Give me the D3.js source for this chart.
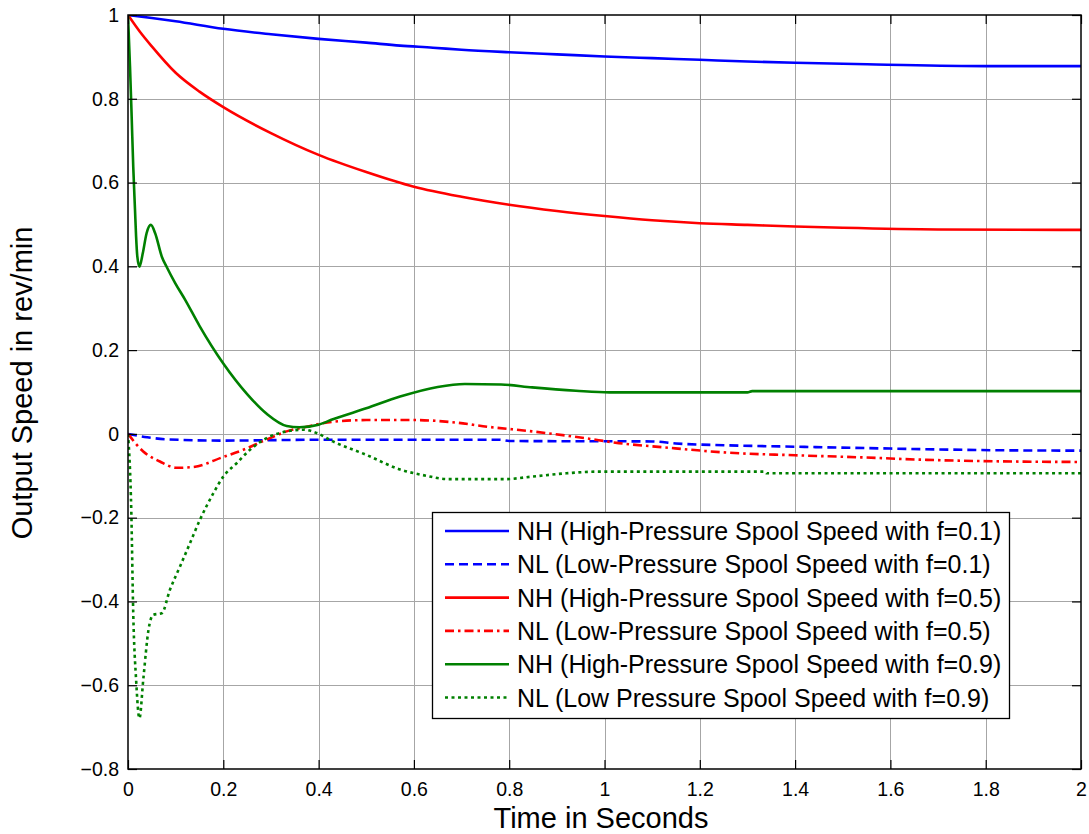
<!DOCTYPE html>
<html>
<head>
<meta charset="UTF-8">
<title>Output Speed</title>
<script src="https://cdnjs.cloudflare.com/ajax/libs/d3/7.8.5/d3.min.js"></script>
<style>
  body { margin: 0; background: #fff; }
  text { font-family: "Liberation Sans", Arial, sans-serif; fill: #000; }
</style>
</head>
<body>
<svg id="chart" width="1089" height="834"></svg>
<script>
// data: [time (s), speed]
var nhF01 = [[0,1],[0.05,0.993],[0.1,0.985],[0.2,0.967],[0.3,0.954],[0.4,0.943],[0.5,0.934],[0.571,0.927],
  [0.64,0.922],[0.7,0.917],[0.8,0.911],[0.9,0.906],[1.0,0.901],[1.1,0.897],[1.2,0.893],[1.3,0.889],
  [1.4,0.886],[1.57,0.882],[1.8,0.878],[2.0,0.878]];
var nlF01 = [[0,0],[0.04,-0.008],[0.08,-0.013],[0.2,-0.016],[0.4,-0.014],[0.78,-0.014],[0.8,-0.017],
  [1.1,-0.018],[1.15,-0.023],[1.25,-0.027],[1.42,-0.031],[1.6,-0.035],[1.82,-0.039],[2.0,-0.040]];
var nhF05 = [[0,1],[0.025,0.96],[0.05,0.925],[0.1,0.862],[0.15,0.817],[0.2,0.780],[0.3,0.718],[0.4,0.666],
  [0.5,0.625],[0.6,0.590],[0.7,0.566],[0.8,0.547],[0.9,0.532],[1.0,0.520],[1.1,0.510],[1.2,0.503],
  [1.3,0.499],[1.4,0.495],[1.5,0.492],[1.7,0.488],[2.0,0.487]];
var nlF05 = [[0,0],[0.032,-0.042],[0.067,-0.066],[0.102,-0.081],[0.137,-0.079],[0.2,-0.055],[0.242,-0.038],
  [0.29,-0.014],[0.333,0.006],[0.375,0.017],[0.43,0.029],[0.5,0.033],[0.6,0.033],[0.68,0.028],[0.755,0.017],
  [0.848,0.006],[0.958,-0.010],[1.03,-0.022],[1.124,-0.032],[1.262,-0.045],[1.40,-0.051],[1.538,-0.056],
  [1.677,-0.062],[1.86,-0.066],[2.0,-0.067]];
var nhF09 = [[0,1],[0.0042,0.877],[0.0077,0.757],[0.011,0.638],[0.0147,0.535],[0.017,0.471],[0.0196,0.423],
  [0.024,0.399],[0.031,0.431],[0.039,0.479],[0.048,0.499],[0.057,0.479],[0.071,0.423],[0.081,0.399],
  [0.099,0.36],[0.12,0.32],[0.15,0.258],[0.2,0.168],[0.25,0.095],[0.291,0.048],[0.333,0.019],[0.36,0.016],
  [0.4,0.022],[0.43,0.035],[0.5,0.061],[0.571,0.089],[0.65,0.112],[0.707,0.119],[0.783,0.118],[0.848,0.111],
  [0.94,0.103],[1.01,0.099],[1.30,0.099],[1.31,0.102],[2.0,0.102]];
var nlF09 = [[0,0],[0.007,-0.189],[0.011,-0.428],[0.017,-0.587],[0.024,-0.679],[0.032,-0.587],[0.043,-0.468],
  [0.053,-0.432],[0.071,-0.428],[0.088,-0.372],[0.109,-0.317],[0.13,-0.261],[0.151,-0.205],[0.179,-0.142],
  [0.2,-0.102],[0.228,-0.07],[0.256,-0.038],[0.291,-0.010],[0.333,0.006],[0.368,0.010],[0.396,0.002],
  [0.43,-0.018],[0.5,-0.05],[0.571,-0.085],[0.626,-0.100],[0.67,-0.108],[0.79,-0.108],[0.848,-0.102],
  [0.92,-0.094],[0.987,-0.090],[1.337,-0.090],[1.34,-0.094],[2.0,-0.094]];

var xTicks = [0,0.2,0.4,0.6,0.8,1,1.2,1.4,1.6,1.8,2];
var yTicks = [1,0.8,0.6,0.4,0.2,0,-0.2,-0.4,-0.6,-0.8];
var legendLabels = [
  "NH (High-Pressure Spool Speed with f=0.1)",
  "NL (Low-Pressure Spool Speed with f=0.1)",
  "NH (High-Pressure Spool Speed with f=0.5)",
  "NL (Low-Pressure Spool Speed with f=0.5)",
  "NH (High-Pressure Spool Speed with f=0.9)",
  "NL (Low Pressure Spool Speed with f=0.9)"
];

var series = [
  {data: nhF01, color: "#0000ff", dash: null},
  {data: nlF01, color: "#0000ff", dash: "9,5"},
  {data: nhF05, color: "#ff0000", dash: null},
  {data: nlF05, color: "#ff0000", dash: "9,4,2.5,4"},
  {data: nhF09, color: "#008000", dash: null},
  {data: nlF09, color: "#008000", dash: "3,3.5"}
];

var W = 1089, H = 834;
var m = {left: 128, top: 15, right: 8, bottom: 65};
var svg = d3.select("#chart");
svg.append("rect").attr("width", W).attr("height", H).attr("fill", "#fff");

var x = d3.scaleLinear().domain([0, 2]).range([m.left, W - m.right]);
var y = d3.scaleLinear().domain([-0.8, 1]).range([H - m.bottom, m.top]);

svg.append("defs").append("clipPath").attr("id", "plot")
  .append("rect").attr("x", x(0)).attr("y", y(1)).attr("width", x(2) - x(0)).attr("height", y(-0.8) - y(1));

// grid
var grid = svg.append("g").attr("stroke", "#a6a6a6").attr("stroke-width", 1);
grid.selectAll(".gx").data(xTicks.slice(1, -1)).enter().append("line")
  .attr("x1", d => Math.round(x(d)) + 0.5).attr("x2", d => Math.round(x(d)) + 0.5)
  .attr("y1", y(1)).attr("y2", y(-0.8));
grid.selectAll(".gy").data(yTicks.slice(1, -1)).enter().append("line")
  .attr("y1", d => Math.round(y(d)) + 0.5).attr("y2", d => Math.round(y(d)) + 0.5)
  .attr("x1", x(0)).attr("x2", x(2));

// series
var line = d3.line().x(d => x(d[0])).y(d => y(d[1])).curve(d3.curveMonotoneX);
svg.append("g").attr("clip-path", "url(#plot)")
  .selectAll("path").data(series).enter().append("path")
  .attr("d", d => line(d.data))
  .attr("fill", "none")
  .attr("stroke", d => d.color)
  .attr("stroke-width", 2.6)
  .attr("stroke-dasharray", d => d.dash);

// axes box and inward ticks
var axes = svg.append("g");
var bottomAxis = d3.axisBottom(x).tickValues(xTicks).tickSizeInner(-9).tickSizeOuter(0).tickPadding(13)
  .tickFormat(d3.format("~g"));
var topAxis = d3.axisTop(x).tickValues(xTicks).tickSizeInner(-9).tickSizeOuter(0).tickFormat("");
var leftAxis = d3.axisLeft(y).tickValues(yTicks).tickSizeInner(-9).tickSizeOuter(0).tickPadding(9)
  .tickFormat(d3.format("~g"));
var rightAxis = d3.axisRight(y).tickValues(yTicks).tickSizeInner(-9).tickSizeOuter(0).tickFormat("");

axes.append("g").attr("transform", "translate(0," + y(-0.8) + ")").call(bottomAxis);
axes.append("g").attr("transform", "translate(0," + y(1) + ")").call(topAxis);
axes.append("g").attr("transform", "translate(" + x(0) + ",0)").call(leftAxis);
axes.append("g").attr("transform", "translate(" + x(2) + ",0)").call(rightAxis);
axes.selectAll(".domain").remove();
axes.selectAll(".tick line").attr("stroke", "#000").attr("stroke-width", 1.2);
axes.selectAll(".tick text").attr("font-size", 19.5).attr("font-family", "Liberation Sans, Arial, sans-serif")
  .attr("fill", "#000");

// legend
var lg = svg.append("g");
var lgX = 432, lgY = 512, lgW = 577, lgH = 206;
lg.append("rect").attr("x", lgX + 0.5).attr("y", lgY + 0.5).attr("width", lgW).attr("height", lgH)
  .attr("fill", "#fff").attr("stroke", "#000").attr("stroke-width", 1.3);
var rowY = d3.scaleLinear().domain([0, 5]).range([531, 697.5]);
var rows = lg.selectAll(".row").data(series).enter().append("g")
  .attr("transform", (d, i) => "translate(0," + rowY(i) + ")");
rows.append("line").attr("x1", 445).attr("x2", 509).attr("y1", 0).attr("y2", 0)
  .attr("stroke", d => d.color).attr("stroke-width", 2.6).attr("stroke-dasharray", d => d.dash);
rows.append("text").attr("x", 517).attr("y", 0).attr("dy", "0.36em").attr("font-size", 25)
  .text((d, i) => legendLabels[i]);

// plot frame
svg.append("rect").attr("x", x(0)).attr("y", y(1)).attr("width", x(2) - x(0)).attr("height", y(-0.8) - y(1))
  .attr("fill", "none").attr("stroke", "#000").attr("stroke-width", 1.5);

// axis titles
svg.append("text").attr("x", 601).attr("y", 828).attr("text-anchor", "middle").attr("font-size", 29)
  .text("Time in Seconds");
svg.append("text").attr("transform", "translate(32," + 383 + ") rotate(-90)").attr("text-anchor", "middle")
  .attr("font-size", 29).text("Output Speed in rev/min");
</script>
</body>
</html>
